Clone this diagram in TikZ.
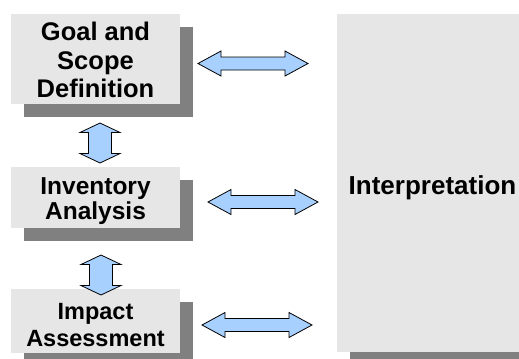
\documentclass[tikz,border=0pt]{standalone}
\usepackage{fontspec}
\setmainfont{Liberation Sans}
\usetikzlibrary{shadows}
\definecolor{boxgray}{HTML}{E6E6E6}
\definecolor{shadowgray}{HTML}{808080}
\definecolor{arrowblue}{HTML}{A8D0FF}
\newcommand\hdarrow[3]{%
  \draw[blockarrow] (#1,#3) -- (#1+23,#3-12.5) -- (#1+23,#3-6.5) -- (#2-23,#3-6.5) -- (#2-23,#3-12.5) -- (#2,#3)
    -- (#2-23,#3+12.5) -- (#2-23,#3+6.5) -- (#1+23,#3+6.5) -- (#1+23,#3+12.5) -- cycle;}
\newcommand\vdarrow[3]{%
  \draw[blockarrow] (#1,#2) -- (#1+20,#2+9.5) -- (#1+11.5,#2+9.5) -- (#1+11.5,#3-9.5) -- (#1+20,#3-9.5) -- (#1,#3)
    -- (#1-20,#3-9.5) -- (#1-11.5,#3-9.5) -- (#1-11.5,#2+9.5) -- (#1-20,#2+9.5) -- cycle;}
\begin{document}
\begin{tikzpicture}[x=1bp,y=-1bp,
  box/.style={fill=boxgray, general shadow={fill=shadowgray, shadow xshift=13bp, shadow yshift=-13bp},
    inner sep=0pt},
  boxtext/.style={inner sep=0pt, align=center, text=black},
  blockarrow/.style={draw=black, fill=arrowblue, line width=0.8bp, line join=miter}]
\useasboundingbox (0,0) rectangle (519,358);
\clip (0,0) rectangle (519,358);
\node[box, minimum width=169bp, minimum height=90bp] (goal) at (95.5,59) {};
\node[boxtext, font=\fontsize{25.5bp}{28.5bp}\selectfont\bfseries] (goaltext) at ([yshift=-1bp]goal.center) {Goal and\\Scope\\Definition};
\node[box, minimum width=169bp, minimum height=61bp] (inv) at (95.5,197.5) {};
\node[boxtext, font=\fontsize{24.5bp}{25bp}\selectfont\bfseries] (invtext) at ([yshift=-4bp]inv.center) {Inventory\\Analysis};
\node[box, minimum width=169bp, minimum height=64bp] (imp) at (95.5,321) {};
\node[boxtext, font=\fontsize{23.5bp}{26.5bp}\selectfont\bfseries] (imptext) at ([yshift=-4bp]imp.center) {Impact\\Assessment};
\node[box, minimum width=193bp, minimum height=338bp] (interp) at (433.5,183) {};
\node[boxtext, font=\fontsize{26bp}{28bp}\selectfont\bfseries] (interptext) at ([xshift=-1bp,yshift=-5bp]interp.center) {Interpretation};
\hdarrow{198}{308}{63.5}
\hdarrow{208}{318}{202}
\hdarrow{202}{312}{325}
\vdarrow{100}{123}{163}
\vdarrow{101}{255}{295}
\end{tikzpicture}
\end{document}
